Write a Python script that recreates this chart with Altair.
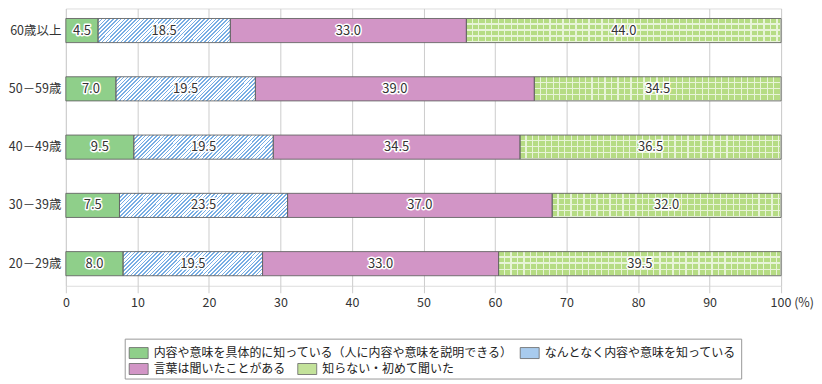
import math
import altair as alt
import pandas as pd

ages = ["60歳以上", "50－59歳", "40－49歳", "30－39歳", "20－29歳"]
cats = [
    "内容や意味を具体的に知っている（人に内容や意味を説明できる）",
    "なんとなく内容や意味を知っている",
    "言葉は聞いたことがある",
    "知らない・初めて聞いた",
]
v_know = [4.5, 7.0, 9.5, 7.5, 8.0]
v_vague = [18.5, 19.5, 19.5, 23.5, 19.5]
v_heard = [33.0, 39.0, 34.5, 37.0, 33.0]
v_none = [44.0, 34.5, 36.5, 32.0, 39.5]
x_ticks = [0, 10, 20, 30, 40, 50, 60, 70, 80, 90, 100]

FONT = "Noto Sans CJK JP"
PLOT_W = 717
BAR_H = 24
GREEN = "#8fcf8a"
BLUE = "#78aee4"
PINK = "#d295c6"
LGREEN = "#b6dc84"
GRIDLINE = "#e8f4d8"

rows = []
for i, age in enumerate(ages):
    vals = [v_know[i], v_vague[i], v_heard[i], v_none[i]]
    s = 0.0
    for c, v in zip(cats, vals):
        rows.append({"age": age, "cat": c, "val": v, "start": s, "end": s + v, "mid": s + v / 2})
        s += v
df = pd.DataFrame(rows)


def hatch(W, H, period_h=3.8, frac=0.42, c1=BLUE, c2="#ffffff"):
    perp = period_h / math.sqrt(2)
    D = (W + H) / math.sqrt(2)
    N = D / perp
    s = (1 / H + 1 / W) / (1 / H ** 2 + 1 / W ** 2)
    stops = []
    k = 0
    while k / N < 1:
        a = k / N
        b = min((k + frac) / N, 1)
        c = min((k + 1) / N, 1)
        stops += [(a, c1), (b, c1), (b, c2), (c, c2)]
        k += 1
    return {"gradient": "linear", "x1": 0, "y1": 0, "x2": s / H, "y2": s / W,
            "stops": [{"offset": o, "color": col} for o, col in stops]}


def lines(L, period=6.5, lw=1.2, base=LGREEN, line=GRIDLINE, vertical=True):
    N = L / period
    stops = []
    k = 0
    while k / N < 1:
        a = k / N
        c = min((k + 1) / N, 1)
        b = max(a, c - lw / L)
        stops += [(a, base), (b, base), (b, line), (c, line)]
        k += 1
    g = {"gradient": "linear", "x1": 0, "y1": 0,
         "stops": [{"offset": o, "color": col} for o, col in stops]}
    if vertical:
        g.update({"x2": 1, "y2": 0})
    else:
        g.update({"x2": 0, "y2": 1})
    return g


x_enc = alt.X(
    "start:Q",
    scale=alt.Scale(domain=[0, 100], nice=False),
    axis=alt.Axis(
        values=x_ticks, title=None, grid=True, gridColor="#cccccc", tickColor="#cccccc",
        tickSize=7, domain=False, labelFontSize=12.5, labelColor="#333333", labelFont=FONT,
        labelPadding=4,
        labelExpr="datum.value == 100 ? '100 (%)' : datum.label",
        labelAlign=alt.condition("datum.value == 100", alt.value("left"), alt.value("center")),
        labelOffset=alt.condition("datum.value == 100", alt.value(-11), alt.value(0)),
    ),
)
y_enc = alt.Y(
    "age:N", sort=ages,
    scale=alt.Scale(paddingInner=0.586, paddingOuter=0.172),
    axis=alt.Axis(title=None, ticks=False, domain=False, labelFontSize=12.5,
                  labelColor="#333333", labelFont=FONT, labelPadding=5),
)

leg_common = dict(
    orient="none", columns=2, direction="horizontal",
    symbolType="M-1,-0.58H1V0.58H-1Z", symbolSize=361, symbolStrokeColor="#666666",
    symbolStrokeWidth=0.8, symbolOpacity=1, labelFontSize=12, labelFont=FONT,
    labelColor="#222222", labelLimit=600, labelOffset=5, padding=4,
)
legendA = alt.Legend(
    title=" ", titleOrient="bottom", titleFontSize=12, titlePadding=3,
    legendX=59, legendY=331, strokeColor="#999999", columnPadding=4, **leg_common,
)
legendB = alt.Legend(
    title=None, legendX=59, legendY=347, columnPadding=9, **leg_common,
)

base = alt.Chart(df)
barsA = base.transform_filter(
    alt.FieldOneOfPredicate(field="cat", oneOf=cats[:2])
).mark_bar().encode(
    x=x_enc, x2="end:Q", y=y_enc,
    color=alt.Color("cat:N", scale=alt.Scale(domain=cats[:2], range=[GREEN, "#a8cbee"]),
                    legend=legendA),
)
barsB = base.transform_filter(
    alt.FieldOneOfPredicate(field="cat", oneOf=cats[2:])
).mark_bar().encode(
    x=x_enc, x2="end:Q", y=y_enc,
    fill=alt.Fill("cat:N", scale=alt.Scale(domain=cats[2:], range=[PINK, "#c3e29a"]),
                  legend=legendB),
)

layers = [barsA, barsB]
for i, age in enumerate(ages):
    W = v_vague[i] / 100 * PLOT_W
    layers.append(
        base.transform_filter(f"datum.age === '{age}' && datum.cat === '{cats[1]}'")
        .mark_bar(fill=hatch(W, BAR_H))
        .encode(x=x_enc, x2="end:Q", y=y_enc)
    )
    Wn = v_none[i] / 100 * PLOT_W
    layers.append(
        base.transform_filter(f"datum.age === '{age}' && datum.cat === '{cats[3]}'")
        .mark_bar(fill=lines(Wn, period=6.5))
        .encode(x=x_enc, x2="end:Q", y=y_enc)
    )
    layers.append(
        base.transform_filter(f"datum.age === '{age}' && datum.cat === '{cats[3]}'")
        .mark_bar(fill=lines(BAR_H, period=6.0, base="rgba(255,255,255,0)", line=GRIDLINE, vertical=False))
        .encode(x=x_enc, x2="end:Q", y=y_enc)
    )

outline = base.mark_bar(fill="#000000", fillOpacity=0, stroke="#666666", strokeWidth=0.9).encode(
    x=x_enc, x2="end:Q", y=y_enc)
layers.append(outline)

x_mid = alt.X("mid:Q", scale=alt.Scale(domain=[0, 100], nice=False))
halo = base.mark_text(fontSize=13, font=FONT, stroke="#ffffff", strokeWidth=3, strokeJoin="round",
                      color="#ffffff").encode(
    x=x_mid, y=y_enc, text=alt.Text("val:Q", format=".1f"))
txt = base.mark_text(fontSize=13, font=FONT, color="#333333").encode(
    x=x_mid, y=y_enc, text=alt.Text("val:Q", format=".1f"))
layers += [halo, txt]

chart = alt.layer(*layers).properties(
    width=PLOT_W, height=278, background="#ffffff", padding=0
).configure_view(stroke=None).configure(font=FONT)

chart.save("out.html", embed_options={"renderer": "svg", "actions": False})
